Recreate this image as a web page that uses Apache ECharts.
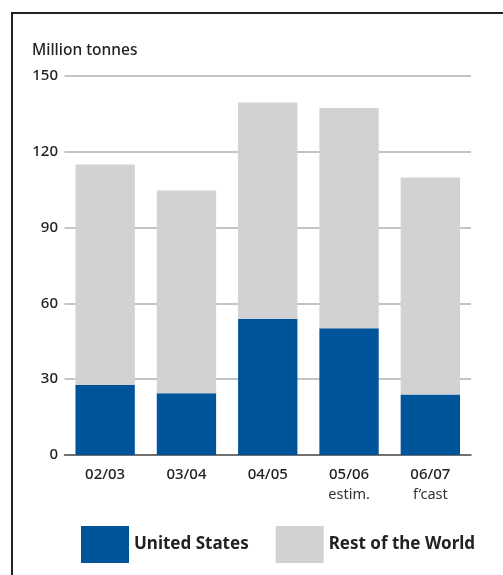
<!DOCTYPE html>
<html>
<head>
<meta charset="utf-8">
<script src="https://cdn.jsdelivr.net/npm/echarts@6/dist/echarts.min.js"></script>
<style>html,body{margin:0;padding:0;background:#fff}#c{width:503px;height:575px}</style>
</head>
<body>
<div id="c"></div>
<script>
const categories = ['02/03', '03/04', '04/05', '05/06', '06/07'];
const subLabels = ['', '', '', 'estim.', 'f\u2019cast'];
const unitedStates = [27.7, 24.4, 53.9, 50.2, 23.9];
const restOfWorld = [87.3, 80.3, 85.6, 87.1, 85.9];
const yTicks = [0, 30, 60, 90, 120, 150];

const chart = echarts.init(document.getElementById('c'), null, {renderer: 'canvas'});
const font = '"Noto Sans", "Open Sans", sans-serif';
chart.setOption({
  animation: false,
  backgroundColor: '#fff',
  textStyle: {fontFamily: font},
  title: {
    text: 'Million tonnes', left: 32, top: 43, padding: 0,
    textStyle: {fontSize: 15.5, fontWeight: 500, color: '#222', fontFamily: font}
  },
  graphic: [
    {type: 'line', shape: {x1: 12, y1: 13, x2: 503, y2: 13}, style: {stroke: '#222', lineWidth: 2}},
    {type: 'line', shape: {x1: 12, y1: 12, x2: 12, y2: 575}, style: {stroke: '#222', lineWidth: 2}}
  ],
  legend: {
    left: 81, top: 526, padding: 0,
    itemWidth: 48, itemHeight: 37, itemGap: 27,
    icon: 'rect',
    textStyle: {fontSize: 17, fontWeight: 'bold', color: '#222', fontFamily: font},
    data: ['United States', 'Rest of the World']
  },
  grid: {left: 64.5, right: 32, top: 76, bottom: 120, containLabel: false},
  xAxis: {
    type: 'category',
    data: categories,
    axisLine: {show: true, lineStyle: {color: '#555', width: 1.5}},
    axisTick: {show: false},
    axisLabel: {
      margin: 10,
      interval: 0,
      formatter: function (v, i) {
        return subLabels[i] ? '{a|' + v + '}\n{b|' + subLabels[i] + '}' : '{a|' + v + '}';
      },
      rich: {
        a: {fontSize: 15, color: '#222', fontWeight: 500, lineHeight: 20, fontFamily: font},
        b: {fontSize: 14.5, color: '#333', lineHeight: 20, fontFamily: font}
      }
    }
  },
  yAxis: {
    type: 'value',
    min: yTicks[0], max: yTicks[yTicks.length - 1], interval: 30,
    axisLine: {show: false},
    axisTick: {show: false},
    axisLabel: {margin: 6.5, fontSize: 15, fontWeight: 500, color: '#222', fontFamily: font},
    splitLine: {show: true, lineStyle: {color: '#c4c4c4', width: 2}}
  },
  series: [
    {
      name: 'United States', type: 'bar', stack: 'total', barWidth: '73%',
      itemStyle: {color: '#00549a'},
      data: unitedStates
    },
    {
      name: 'Rest of the World', type: 'bar', stack: 'total', barWidth: '73%',
      itemStyle: {color: '#d1d2d4'},
      data: restOfWorld
    }
  ]
});
</script>
</body>
</html>
